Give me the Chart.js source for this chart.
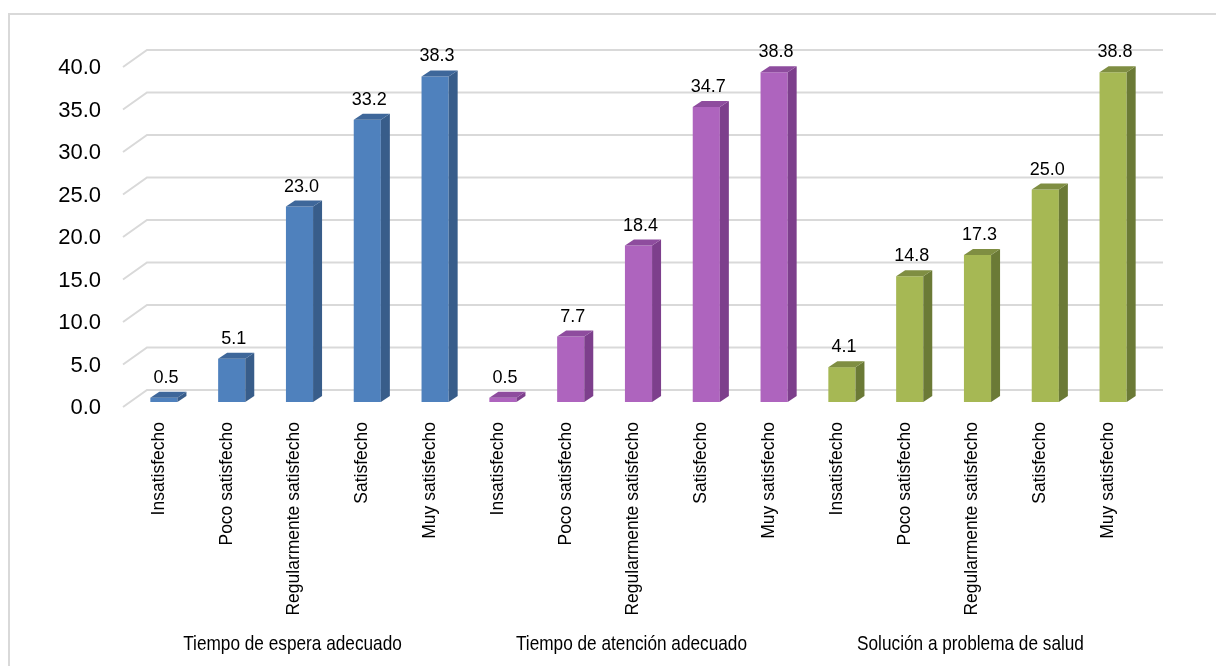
<!DOCTYPE html>
<html>
<head>
<meta charset="UTF-8">
<title>Satisfacción del usuario</title>
<script src="https://cdn.jsdelivr.net/npm/chart.js"></script>
<style>
  body { margin: 0; background: #fff; }
  .marco {
    position: absolute; left: 8px; top: 13px; right: 0; bottom: 0;
    border-top: 2px solid #d9d9d9; border-left: 2px solid #d9d9d9;
  }
  #satChart { position: absolute; left: 0; top: 0; }
</style>
</head>
<body>
<div class="marco"></div>
<canvas id="satChart" width="1216" height="666"></canvas>

<script>
    // niveles de satisfacción (se repiten en cada grupo)
    const niveles = ['Insatisfecho', 'Poco satisfecho', 'Regularmente satisfecho', 'Satisfecho', 'Muy satisfecho'];
    const grupos = ['Tiempo de espera adecuado', 'Tiempo de atención adecuado', 'Solución a problema de salud'];

    // porcentajes por grupo
    const esperaVals = [0.5, 5.1, 23.0, 33.2, 38.3];
    const atencionVals = [0.5, 7.7, 18.4, 34.7, 38.8];
    const solucionVals = [4.1, 14.8, 17.3, 25.0, 38.8];

    const yTicks = [0, 5, 10, 15, 20, 25, 30, 35, 40];

    // colores: frente, lateral, tapa
    const frente = ['#4f81bd', '#ae64be', '#a6b854'];
    const lateral = ['#385d8a', '#7d3f8c', '#6b7a36'];
    const tapa = ['#3e679a', '#8e4c9e', '#7f8e42'];

    const fuente = '"Liberation Sans", Arial, sans-serif';

    const labels = niveles.concat(niveles, niveles);
    const valores = esperaVals.concat(atencionVals, solucionVals);
    const colores = valores.map((v, i) => frente[Math.floor(i / 5)]);

    // caras laterales, piso con perspectiva y etiquetas de valor
    const cubo3d = {
        id: 'cubo3d',
        beforeDatasetsDraw(chart) {
            const ctx = chart.ctx;
            const a = chart.chartArea;
            const y = chart.scales.y;
            ctx.save();
            ctx.strokeStyle = '#d9d9d9';
            ctx.lineWidth = 2;
            y.ticks.forEach(t => {
                const py = y.getPixelForValue(t.value);
                ctx.beginPath();
                ctx.moveTo(a.left - 7, py + 5);
                ctx.lineTo(a.left + 17, py - 12);
                ctx.lineTo(a.right + 16, py - 12);
                ctx.stroke();
            });
            ctx.restore();
        },
        afterDatasetsDraw(chart) {
            const ctx = chart.ctx;
            const meta = chart.getDatasetMeta(0);
            const dx = 9, dy = 6;
            ctx.save();
            meta.data.forEach((bar, i) => {
                const g = Math.floor(i / 5);
                const x0 = bar.x - bar.width / 2;
                const x1 = bar.x + bar.width / 2;
                const top = bar.y, base = bar.base;

                ctx.fillStyle = lateral[g];
                ctx.beginPath();
                ctx.moveTo(x1, base);
                ctx.lineTo(x1, top);
                ctx.lineTo(x1 + dx, top - dy);
                ctx.lineTo(x1 + dx, base - dy);
                ctx.closePath();
                ctx.fill();

                ctx.fillStyle = tapa[g];
                ctx.beginPath();
                ctx.moveTo(x0, top);
                ctx.lineTo(x0 + dx, top - dy);
                ctx.lineTo(x1 + dx, top - dy);
                ctx.lineTo(x1, top);
                ctx.closePath();
                ctx.fill();

                ctx.fillStyle = '#000';
                ctx.font = '18px ' + fuente;
                ctx.textAlign = 'center';
                ctx.textBaseline = 'alphabetic';
                ctx.fillText(valores[i].toFixed(1), bar.x + 2, top - 15);
            });

            // nombre de cada grupo bajo sus cinco barras (letra estrecha)
            const x = chart.scales.x;
            ctx.font = '21px ' + fuente;
            ctx.fillStyle = '#000';
            ctx.textAlign = 'center';
            grupos.forEach((nombre, k) => {
                const xa = x.getPixelForValue(k * 5);
                const xb = x.getPixelForValue(k * 5 + 4);
                ctx.save();
                ctx.translate((xa + xb) / 2 - 7, 650);
                ctx.scale(0.82, 1);
                ctx.fillText(nombre, 0, 0);
                ctx.restore();
            });
            ctx.restore();
        }
    };

    const config = {
        type: 'bar',
        data: {
            labels: labels,
            datasets: [{
                data: valores,
                backgroundColor: colores,
                borderWidth: 0,
                categoryPercentage: 1,
                barPercentage: 0.4
            }]
        },
        options: {
            responsive: false,
            animation: false,
            layout: {
                padding: { top: 62, right: 69, left: 0, bottom: 0 }
            },
            plugins: {
                legend: { display: false },
                tooltip: { enabled: false }
            },
            scales: {
                x: {
                    grid: { display: false, drawTicks: false },
                    border: { display: false },
                    afterFit: s => { s.height = 264; },
                    ticks: {
                        autoSkip: false,
                        maxRotation: 90,
                        minRotation: 90,
                        padding: 20,
                        labelOffset: -5,
                        color: '#000',
                        font: { family: fuente, size: 17.5 }
                    }
                },
                y: {
                    min: 0,
                    max: 40,
                    grid: { display: false, drawTicks: false },
                    border: { display: false },
                    afterFit: s => { s.width = 130; },
                    afterBuildTicks: s => { s.ticks = yTicks.map(v => ({ value: v })); },
                    ticks: {
                        padding: 29,
                        labelOffset: 6,
                        color: '#000',
                        font: { family: fuente, size: 22 },
                        callback: v => v.toFixed(1)
                    }
                }
            }
        },
        plugins: [cubo3d]
    };

    new Chart(document.getElementById('satChart').getContext('2d'), config);
</script>
</body>
</html>
